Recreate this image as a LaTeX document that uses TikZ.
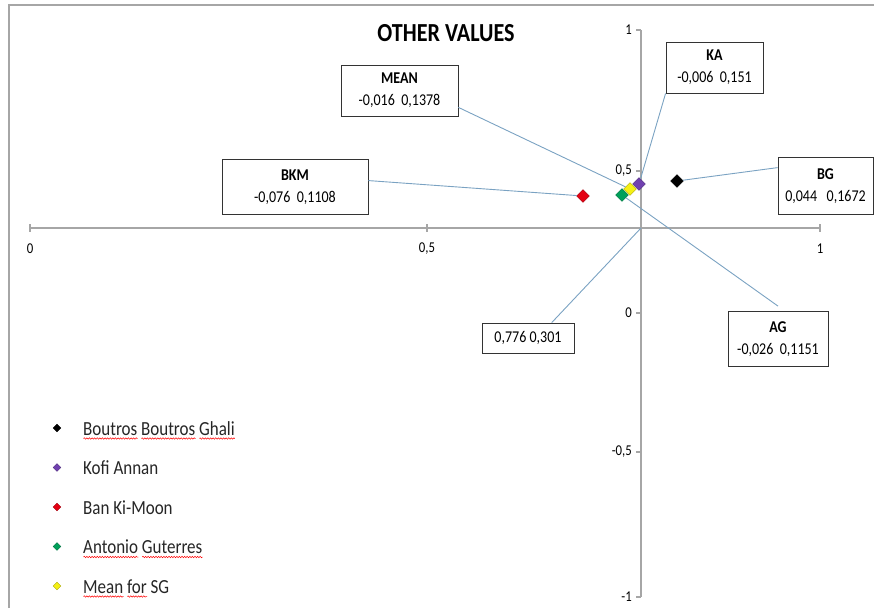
\documentclass[tikz,border=0pt]{standalone}
\usepackage{fontspec}
\setmainfont{Carlito}[FakeStretch=0.85]
\definecolor{axisgray}{RGB}{166,166,166}
\definecolor{leaderblue}{RGB}{122,162,194}
\definecolor{bbgblack}{RGB}{  0,  0,  0}
\definecolor{kapurple}{RGB}{112, 64,176}
\definecolor{bkmred}{RGB}{228,  0, 18}
\definecolor{aggreen}{RGB}{  0,160, 90}
\definecolor{sgyellow}{RGB}{245,240, 20}
\usetikzlibrary{shapes.geometric, decorations.pathmorphing}

\newlength\wavelen
\newcommand\spellwave[1]{\settowidth\wavelen{#1}%
  \rlap{\tikz[baseline=0pt]\draw[red, line width=0.5pt, decorate,
        decoration={snake, amplitude=0.7pt, segment length=2.6pt}]
        (0pt,-3.5pt) -- (\wavelen,-3.5pt);}#1}

\begin{document}
\begin{tikzpicture}[
x = 1pt, y = -1pt,
    axis/.style = {draw=axisgray, line width=1.4pt},
 ticklab/.style = {font=\fontsize{15}{17}\selectfont, inner sep=1pt},
  leader/.style = {draw=leaderblue, line width=0.9pt},
 callout/.style = {rectangle, draw=black!80, line width=0.8pt, fill=white,
                   align=center, font=\fontsize{16.5}{22}\selectfont},
     dot/.style = {diamond, fill=#1, draw=#1!70!black, line width=0.4pt,
                   inner sep=0pt, minimum size=13pt},
  legdot/.style = {dot=#1, minimum size=8pt},
 legtext/.style = {anchor=base west, inner sep=0pt, text=black!85,
                   font=\fontsize{20}{24}\selectfont}
                   ]
\useasboundingbox (0,0) rectangle (874,608);

% frame
\draw[axis] (9,608) -- (9,5) -- (874,5);

% axes, crossing at 0,776 / 0,301
\coordinate (origin) at (641,228);
\draw[axis] (30,228) -- (820,228);
\draw[axis] (641,30) -- (641,597);
\foreach \x/\lab in {30/0, 427/{0,5}, 820/1}
  {
  \draw[axis] (\x,224) -- (\x,232);
  \node[ticklab] at (\x,249) {\lab};
  }
\foreach \y/\lab in {30/1, 171/{0,5}, 313/0, 452/{-0,5}, 597/-1}
  {
  \draw[axis] (636,\y) -- (641,\y);
  \node[ticklab, anchor=east] at (633,\y) {\lab};
  }

\node[font=\bfseries\fontsize{26}{30}\selectfont] (title) at (446,33) {OTHER VALUES};

% data points
\node[dot=bbgblack] (bgdot)  at (677,181) {};
\node[dot=kapurple] (kadot)  at (639,184) {};
\node[dot=bkmred]   (bkmdot) at (583,196) {};
\node[dot=aggreen]  (agdot)  at (622,195) {};
\node[dot=sgyellow] (sgdot)  at (630,189) {};

% labels
\node[callout, minimum width=117pt, minimum height=51pt] (mean) at (399.5,90.5)
                    {\textbf{MEAN}\\
                     -0,016\ \ 0,1378};
\node[callout, minimum width=97pt, minimum height=51pt] (ka) at (714.5,67.5)
                    {\textbf{KA}\\
                     -0,006\ \ 0,151};
\node[callout, minimum width=95pt, minimum height=57pt] (bg) at (825.5,186)
                    {\textbf{BG}\\
                     0,044\ \ \ 0,1672};
\node[callout, minimum width=146pt, minimum height=55pt] (bkm) at (295,187)
                    {\textbf{BKM}\\
                     -0,076\ \ 0,1108};
\node[callout, minimum width=92pt, minimum height=30pt] (cross) at (528,338)
                    {0,776 0,301};
\node[callout, minimum width=100pt, minimum height=55pt] (ag) at (778,339)
                    {\textbf{AG}\\
                     -0,026\ \ 0,1151};

\draw[leader] (mean.-16) -- (sgdot);
\draw[leader] (ka.south west) -- (kadot);
\draw[leader] (bg.159) -- (bgdot);
\draw[leader] (bkm.5) -- (bkmdot);
\draw[leader] (cross.33) -- (origin);
\draw[leader] ([yshift=5pt]ag.north) -- (agdot);

% legend
\foreach \col/\name [count=\i] in {
    bbgblack/{\spellwave{Boutros} \spellwave{Boutros} \spellwave{Ghali}},
    kapurple/{Kofi Annan},
    bkmred/{Ban Ki-Moon},
    aggreen/{\spellwave{Antonio} \spellwave{Guterres}},
    sgyellow/{\spellwave{Mean} \spellwave{for} SG}}
  {
  \node[legdot=\col] (leg\i) at (57,388.5+39.5*\i) {};
  \node[legtext] (legtxt\i) at (83,395.5+39.5*\i) {\name};
  }
\end{tikzpicture}
\end{document}
